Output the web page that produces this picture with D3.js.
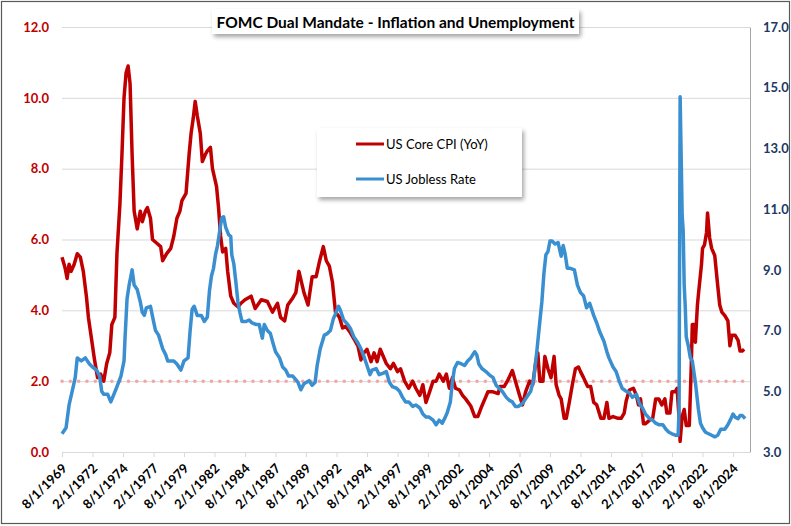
<!DOCTYPE html>
<html>
<head>
<meta charset="utf-8">
<script src="https://cdnjs.cloudflare.com/ajax/libs/d3/7.8.5/d3.min.js"></script>
<style>
    body { margin: 0; background: #fff; }
    text { font-family: Lato, "Noto Sans", sans-serif; }
</style>
</head>
<body>
<div id="chart-area"></div>
<script>
/*
*    FOMC dual mandate chart
*/

// US core CPI, year over year (%), left axis
var cpi = [
    ["1969-08", 5.5], ["1969-11", 5.2], ["1970-01", 4.9], ["1970-03", 5.3], ["1970-05", 5.1],
    ["1970-08", 5.3], ["1970-11", 5.6], ["1971-02", 5.5], ["1971-05", 5.1], ["1971-08", 4.4],
    ["1971-10", 3.8], ["1972-01", 3.2], ["1972-04", 2.6], ["1972-07", 2.1], ["1972-10", 2.2],
    ["1973-01", 2.0], ["1973-04", 2.5], ["1973-07", 2.8], ["1973-09", 3.6], ["1973-12", 3.8],
    ["1974-02", 5.6], ["1974-05", 7.0], ["1974-07", 8.4], ["1974-09", 10.0], ["1974-11", 10.7],
    ["1975-01", 10.9], ["1975-03", 10.4], ["1975-05", 8.4], ["1975-07", 6.8], ["1975-10", 6.3],
    ["1976-01", 6.8], ["1976-03", 6.5], ["1976-06", 6.8], ["1976-08", 6.9], ["1976-11", 6.6],
    ["1977-01", 6.0], ["1977-05", 5.9], ["1977-09", 5.8], ["1977-11", 5.4], ["1978-03", 5.6],
    ["1978-07", 5.75], ["1978-10", 6.1], ["1979-01", 6.6], ["1979-04", 6.8], ["1979-06", 7.1],
    ["1979-10", 7.3], ["1980-01", 8.4], ["1980-03", 9.0], ["1980-05", 9.4], ["1980-07", 9.9],
    ["1980-09", 9.5], ["1980-12", 9.0], ["1981-02", 8.2], ["1981-05", 8.4], ["1981-07", 8.5],
    ["1981-10", 8.6], ["1981-12", 8.0], ["1982-04", 7.5], ["1982-06", 6.9], ["1982-08", 6.1],
    ["1982-10", 5.65], ["1983-01", 5.75], ["1983-03", 5.1], ["1983-06", 4.4], ["1983-09", 4.2],
    ["1984-01", 4.1], ["1984-04", 4.2], ["1984-08", 4.3], ["1985-02", 4.4], ["1985-06", 4.05],
    ["1985-12", 4.3], ["1986-06", 4.25], ["1986-11", 3.95], ["1987-04", 4.2], ["1987-07", 3.8],
    ["1987-11", 3.7], ["1988-02", 4.15], ["1988-07", 4.35], ["1988-10", 4.5], ["1989-01", 5.1],
    ["1989-06", 4.5], ["1989-10", 4.15], ["1990-02", 4.95], ["1990-06", 4.95], ["1990-09", 5.35],
    ["1991-01", 5.8], ["1991-04", 5.4], ["1991-07", 5.25], ["1991-10", 4.8], ["1992-01", 3.95],
    ["1992-05", 3.8], ["1992-08", 3.5], ["1992-11", 3.55], ["1993-03", 3.4], ["1993-08", 3.15],
    ["1993-11", 3.0], ["1994-02", 2.6], ["1994-05", 2.8], ["1994-08", 2.9], ["1994-12", 2.55],
    ["1995-03", 2.8], ["1995-06", 2.55], ["1995-09", 2.9], ["1996-03", 2.5], ["1996-07", 2.35],
    ["1996-10", 2.5], ["1997-02", 2.27], ["1997-05", 2.35], ["1997-09", 2.0], ["1998-01", 1.8],
    ["1998-05", 2.0], ["1998-08", 1.8], ["1998-12", 1.6], ["1999-03", 1.9], ["1999-06", 1.4],
    ["1999-09", 1.65], ["2000-01", 2.0], ["2000-04", 2.0], ["2000-07", 2.2], ["2000-11", 2.0],
    ["2001-02", 2.2], ["2001-05", 1.8], ["2001-08", 2.1], ["2001-11", 1.8], ["2002-03", 1.75],
    ["2002-06", 1.6], ["2002-09", 1.5], ["2003-02", 1.3], ["2003-06", 1.0], ["2003-09", 1.0],
    ["2004-01", 1.3], ["2004-04", 1.5], ["2004-07", 1.7], ["2004-12", 1.7], ["2005-05", 1.65],
    ["2005-07", 1.85], ["2005-11", 1.85], ["2006-02", 2.0], ["2006-07", 2.3], ["2006-11", 1.9],
    ["2007-02", 1.6], ["2007-05", 1.33], ["2007-08", 1.7], ["2007-12", 2.0], ["2008-03", 1.9],
    ["2008-06", 2.55], ["2008-08", 2.8], ["2008-10", 2.0], ["2009-01", 2.0], ["2009-03", 2.7],
    ["2009-06", 2.35], ["2009-09", 2.1], ["2009-12", 2.7], ["2010-02", 1.9], ["2010-05", 1.6],
    ["2010-07", 1.5], ["2010-10", 0.95], ["2010-12", 0.95], ["2011-03", 1.4], ["2011-06", 1.9],
    ["2011-09", 2.35], ["2011-12", 2.4], ["2012-02", 2.27], ["2012-05", 2.1], ["2012-09", 1.85],
    ["2012-12", 1.85], ["2013-03", 1.4], ["2013-06", 1.33], ["2013-10", 0.95], ["2014-01", 0.95],
    ["2014-04", 1.4], ["2014-06", 0.95], ["2014-10", 1.0], ["2015-03", 0.95], ["2015-06", 0.95],
    ["2015-09", 1.1], ["2015-11", 1.45], ["2016-02", 1.75], ["2016-06", 1.8], ["2016-09", 1.6],
    ["2016-11", 1.33], ["2017-01", 1.5], ["2017-04", 0.8], ["2017-06", 0.8], ["2017-10", 0.9],
    ["2018-01", 0.95], ["2018-04", 1.5], ["2018-07", 1.5], ["2018-10", 1.33], ["2019-01", 1.5],
    ["2019-03", 1.1], ["2019-06", 1.1], ["2019-08", 1.7], ["2019-11", 1.7], ["2020-01", 1.8],
    ["2020-03", 0.95], ["2020-04", 0.3], ["2020-06", 1.0], ["2020-08", 1.2], ["2020-10", 0.75],
    ["2021-01", 0.75], ["2021-03", 2.45], ["2021-04", 3.6], ["2021-06", 3.6], ["2021-07", 3.1],
    ["2021-09", 4.15], ["2021-10", 4.45], ["2022-01", 5.3], ["2022-02", 5.75], ["2022-04", 5.85],
    ["2022-06", 6.2], ["2022-07", 6.75], ["2022-09", 6.05], ["2022-11", 5.75], ["2023-02", 5.55],
    ["2023-05", 4.7], ["2023-07", 4.15], ["2023-09", 3.95], ["2023-12", 3.85], ["2024-03", 3.7],
    ["2024-05", 3.0], ["2024-07", 3.3], ["2024-10", 3.3], ["2025-01", 3.15], ["2025-03", 2.85],
    ["2025-05", 2.85], ["2025-07", 2.9]
];

// US unemployment rate (%), right axis
var jobless = [
    ["1969-08", 3.6], ["1969-12", 3.8], ["1970-03", 4.55], ["1970-06", 5.0], ["1970-09", 5.45],
    ["1970-11", 6.1], ["1971-03", 6.0], ["1971-07", 6.1], ["1971-11", 5.9], ["1972-02", 5.8],
    ["1972-06", 5.7], ["1972-09", 5.5], ["1972-11", 5.0], ["1973-01", 4.9], ["1973-05", 4.9],
    ["1973-08", 4.65], ["1973-11", 4.9], ["1974-02", 5.15], ["1974-06", 5.5], ["1974-09", 6.0],
    ["1974-10", 6.75], ["1974-12", 8.05], ["1975-02", 8.5], ["1975-05", 9.0], ["1975-07", 8.5],
    ["1975-10", 8.35], ["1976-01", 7.95], ["1976-03", 7.6], ["1976-05", 7.5], ["1976-07", 7.75],
    ["1976-11", 7.8], ["1977-02", 7.3], ["1977-04", 7.0], ["1977-07", 6.85], ["1977-11", 6.4],
    ["1978-02", 6.2], ["1978-04", 6.0], ["1978-07", 6.0], ["1978-10", 6.0], ["1979-01", 5.9],
    ["1979-05", 5.7], ["1979-08", 6.0], ["1979-12", 6.1], ["1980-02", 7.0], ["1980-04", 7.7],
    ["1980-06", 7.8], ["1980-09", 7.5], ["1981-01", 7.5], ["1981-04", 7.3], ["1981-07", 7.45],
    ["1981-09", 8.3], ["1981-11", 8.8], ["1982-01", 9.05], ["1982-03", 9.5], ["1982-05", 9.8],
    ["1982-07", 10.25], ["1982-09", 10.7], ["1982-11", 10.75], ["1983-01", 10.4], ["1983-04", 10.15],
    ["1983-06", 10.1], ["1983-07", 9.5], ["1983-09", 9.2], ["1983-11", 8.6], ["1984-01", 7.95],
    ["1984-03", 7.6], ["1984-05", 7.3], ["1984-09", 7.3], ["1984-12", 7.35], ["1985-03", 7.25],
    ["1985-07", 7.2], ["1985-10", 7.2], ["1986-01", 6.75], ["1986-03", 7.2], ["1986-06", 7.0],
    ["1986-09", 6.9], ["1986-11", 6.65], ["1987-02", 6.3], ["1987-06", 6.1], ["1987-09", 5.8],
    ["1987-12", 5.7], ["1988-03", 5.5], ["1988-07", 5.5], ["1988-12", 5.3], ["1989-03", 5.05],
    ["1989-06", 5.25], ["1989-11", 5.35], ["1990-02", 5.2], ["1990-05", 5.3], ["1990-07", 5.85],
    ["1990-10", 6.4], ["1991-02", 6.85], ["1991-05", 6.9], ["1991-08", 7.0], ["1991-11", 7.4],
    ["1992-01", 7.55], ["1992-04", 7.8], ["1992-06", 7.65], ["1992-09", 7.35], ["1993-01", 7.2],
    ["1993-04", 7.05], ["1993-07", 6.8], ["1993-11", 6.6], ["1994-02", 6.4], ["1994-05", 6.15],
    ["1994-08", 5.85], ["1994-11", 5.55], ["1995-01", 5.7], ["1995-05", 5.75], ["1995-08", 5.55],
    ["1995-12", 5.6], ["1996-03", 5.65], ["1996-06", 5.3], ["1996-09", 5.15], ["1997-01", 5.1],
    ["1997-04", 5.0], ["1997-07", 4.8], ["1997-10", 4.65], ["1998-01", 4.65], ["1998-05", 4.5],
    ["1998-08", 4.55], ["1998-12", 4.45], ["1999-03", 4.25], ["1999-06", 4.15], ["1999-09", 4.15],
    ["2000-01", 4.05], ["2000-04", 3.9], ["2000-07", 4.05], ["2000-10", 3.95], ["2001-01", 4.15],
    ["2001-03", 4.3], ["2001-06", 4.65], ["2001-08", 5.3], ["2001-10", 5.75], ["2002-01", 5.95],
    ["2002-05", 5.9], ["2002-08", 5.85], ["2002-11", 6.0], ["2003-02", 6.1], ["2003-06", 6.3],
    ["2003-08", 6.2], ["2003-10", 5.9], ["2004-01", 5.75], ["2004-05", 5.65], ["2004-08", 5.55],
    ["2004-12", 5.45], ["2005-03", 5.2], ["2005-06", 5.1], ["2005-09", 5.0], ["2006-01", 4.8],
    ["2006-04", 4.7], ["2006-07", 4.65], ["2006-10", 4.5], ["2007-01", 4.5], ["2007-05", 4.6],
    ["2007-09", 4.8], ["2008-01", 5.0], ["2008-04", 5.4], ["2008-07", 6.3], ["2008-10", 7.3],
    ["2008-12", 7.95], ["2009-02", 8.9], ["2009-04", 9.5], ["2009-06", 9.6], ["2009-08", 9.95],
    ["2009-10", 9.95], ["2010-01", 9.85], ["2010-04", 9.9], ["2010-07", 9.45], ["2010-09", 9.8],
    ["2010-11", 9.5], ["2011-01", 9.05], ["2011-04", 9.05], ["2011-08", 9.0], ["2011-11", 8.5],
    ["2012-02", 8.25], ["2012-05", 8.15], ["2012-08", 7.75], ["2012-11", 7.9], ["2013-03", 7.5],
    ["2013-06", 7.25], ["2013-09", 6.95], ["2014-01", 6.65], ["2014-04", 6.3], ["2014-06", 6.1],
    ["2014-10", 5.8], ["2015-01", 5.65], ["2015-04", 5.35], ["2015-07", 5.1], ["2015-11", 5.0],
    ["2016-02", 4.95], ["2016-05", 4.8], ["2016-09", 4.9], ["2016-12", 4.6], ["2017-03", 4.45],
    ["2017-06", 4.25], ["2017-10", 4.1], ["2018-01", 4.05], ["2018-04", 3.95], ["2018-07", 3.9],
    ["2018-11", 3.9], ["2019-02", 3.75], ["2019-05", 3.65], ["2019-08", 3.6], ["2019-12", 3.55],
    ["2020-02", 3.55], ["2020-03", 4.4], ["2020-04", 14.7], ["2020-05", 12.8], ["2020-06", 10.8],
    ["2020-07", 10.3], ["2020-08", 8.5], ["2020-09", 7.8], ["2020-10", 6.8], ["2020-12", 6.5],
    ["2021-02", 6.1], ["2021-04", 6.0], ["2021-07", 5.3], ["2021-10", 4.4], ["2021-12", 3.95],
    ["2022-02", 3.8], ["2022-05", 3.65], ["2022-08", 3.6], ["2022-11", 3.55], ["2023-02", 3.5],
    ["2023-05", 3.55], ["2023-08", 3.75], ["2023-12", 3.75], ["2024-03", 3.9], ["2024-06", 4.1],
    ["2024-08", 4.25], ["2024-10", 4.15], ["2025-01", 4.1], ["2025-03", 4.2], ["2025-05", 4.2],
    ["2025-08", 4.1]
];

var seriesNames = ["US Core CPI (YoY)", "US Jobless Rate"];
var targetInflation = 2.0;
var leftTicks = [0, 2, 4, 6, 8, 10, 12];
var rightTicks = [3, 5, 7, 9, 11, 13, 15, 17];
var dateTicks = ["8/1/1969", "2/1/1972", "8/1/1974", "2/1/1977", "8/1/1979", "2/1/1982",
    "8/1/1984", "2/1/1987", "8/1/1989", "2/1/1992", "8/1/1994", "2/1/1997", "8/1/1999",
    "2/1/2002", "8/1/2004", "2/1/2007", "8/1/2009", "2/1/2012", "8/1/2014", "2/1/2017",
    "8/1/2019", "2/1/2022", "8/1/2024"];

var margin = {top: 27, left: 62};
var width = 688;   // plot area
var height = 425;
var red = "#c00000";
var blue = "#3a8fd0";
var grid = "#d9d9d9";

var parseMonth = d3.timeParse("%Y-%m");
var parseTick = d3.timeParse("%m/%d/%Y");
var tickDates = dateTicks.map(parseTick);

var svg = d3.select("#chart-area")
    .append("svg")
        .attr("width", 791)
        .attr("height", 526);

var defs = svg.append("defs");
defs.append("filter")
        .attr("id", "shadow")
        .attr("x", "-10%").attr("y", "-30%")
        .attr("width", "130%").attr("height", "180%")
    .append("feDropShadow")
        .attr("dx", 2).attr("dy", 3)
        .attr("stdDeviation", 2)
        .attr("flood-color", "#000")
        .attr("flood-opacity", 0.35);

// outer frame
svg.append("rect")
    .attr("x", 1.5).attr("y", 1.5)
    .attr("width", 788).attr("height", 522)
    .attr("fill", "#fff")
    .attr("stroke", "#595959")
    .attr("stroke-width", 1.2);

var g = svg.append("g")
    .attr("transform", "translate(" + margin.left + ", " + margin.top + ")");

// date ticks run from first to last label, data beyond just carries on
var x = d3.scaleTime()
    .domain([tickDates[0], tickDates[tickDates.length - 1]])
    .range([0, 671]);

var yLeft = d3.scaleLinear()
    .domain([0, 12])
    .range([height, 0]);

var yRight = d3.scaleLinear()
    .domain([3, 17])
    .range([height, 0]);

// gridlines
g.append("g")
    .attr("class", "grid")
    .call(d3.axisLeft(yLeft).tickValues(leftTicks).tickSize(-width).tickFormat(""))
    .call((s) => s.select(".domain").remove())
    .selectAll("line")
        .attr("stroke", grid)
        .attr("stroke-width", 1);

// bottom axis
var bottomAxis = d3.axisBottom(x)
    .tickValues(tickDates)
    .tickFormat(d3.timeFormat("%-m/%-d/%Y"))
    .tickSize(5)
    .tickPadding(0);

g.append("g")
    .attr("class", "x axis")
    .attr("transform", "translate(0, " + height + ")")
    .call(bottomAxis)
    .call((s) => s.select(".domain").remove())
    .call((s) => s.selectAll("line").attr("stroke", grid))
    .selectAll("text")
        .attr("y", 0)
        .attr("x", 0)
        .attr("dy", "0.35em")
        .attr("font-size", "13px")
        .attr("font-weight", "bold")
        .attr("fill", "#000")
        .attr("text-anchor", "end")
        .attr("transform", "translate(2, 14) rotate(-45)");

// left axis
g.append("g")
    .attr("class", "left axis")
    .call(d3.axisLeft(yLeft).tickValues(leftTicks).tickFormat(d3.format(".1f")).tickSize(0).tickPadding(13))
    .call((s) => s.select(".domain").remove())
    .selectAll("text")
        .attr("font-size", "13px")
        .attr("font-weight", "bold")
        .attr("fill", red);

// right axis
g.append("g")
    .attr("class", "right axis")
    .attr("transform", "translate(" + width + ", 0)")
    .call(d3.axisRight(yRight).tickValues(rightTicks).tickFormat(d3.format(".1f")).tickSize(0).tickPadding(13))
    .call((s) => s.select(".domain").attr("stroke", "#a6a6a6"))
    .selectAll("text")
        .attr("font-size", "13px")
        .attr("font-weight", "bold")
        .attr("fill", "#203864");

// 2% target line
g.append("line")
    .attr("x1", 0).attr("x2", width)
    .attr("y1", yLeft(targetInflation)).attr("y2", yLeft(targetInflation))
    .attr("stroke", "#f4a6a6")
    .attr("stroke-width", 3.5)
    .attr("stroke-linecap", "round")
    .attr("stroke-dasharray", "0.1 8.2");

var cpiLine = d3.line()
    .x((d) => x(parseMonth(d[0])))
    .y((d) => yLeft(d[1]));

var joblessLine = d3.line()
    .x((d) => x(parseMonth(d[0])))
    .y((d) => yRight(d[1]));

g.append("path")
    .datum(cpi)
    .attr("fill", "none")
    .attr("stroke", red)
    .attr("stroke-width", 3.5)
    .attr("stroke-linejoin", "round")
    .attr("d", cpiLine);

g.append("path")
    .datum(jobless)
    .attr("fill", "none")
    .attr("stroke", blue)
    .attr("stroke-width", 3.5)
    .attr("stroke-linejoin", "round")
    .attr("d", joblessLine);

// title box
var title = svg.append("g");
title.append("rect")
    .attr("x", 212).attr("y", 9)
    .attr("width", 367).attr("height", 25)
    .attr("fill", "#fff")
    .attr("filter", "url(#shadow)");
title.append("text")
    .attr("x", 395.5).attr("y", 28)
    .attr("text-anchor", "middle")
    .attr("font-size", "15.5px")
    .attr("font-weight", "bold")
    .attr("fill", "#000")
    .text("FOMC Dual Mandate - Inflation and Unemployment");

// legend
var legend = svg.append("g");
legend.append("rect")
    .attr("x", 317).attr("y", 128)
    .attr("width", 205).attr("height", 69)
    .attr("fill", "#fff")
    .attr("filter", "url(#shadow)");

var items = legend.selectAll(".item")
    .data(seriesNames)
    .enter()
    .append("g")
        .attr("transform", (d, i) => "translate(356, " + (144 + i * 35) + ")");

items.append("line")
    .attr("x1", 0).attr("x2", 28)
    .attr("stroke", (d, i) => i == 0 ? red : blue)
    .attr("stroke-width", 3);

items.append("text")
    .attr("x", 30)
    .attr("y", 5)
    .attr("font-size", "13px")
    .attr("fill", "#000")
    .text((d) => d);
</script>
</body>
</html>
